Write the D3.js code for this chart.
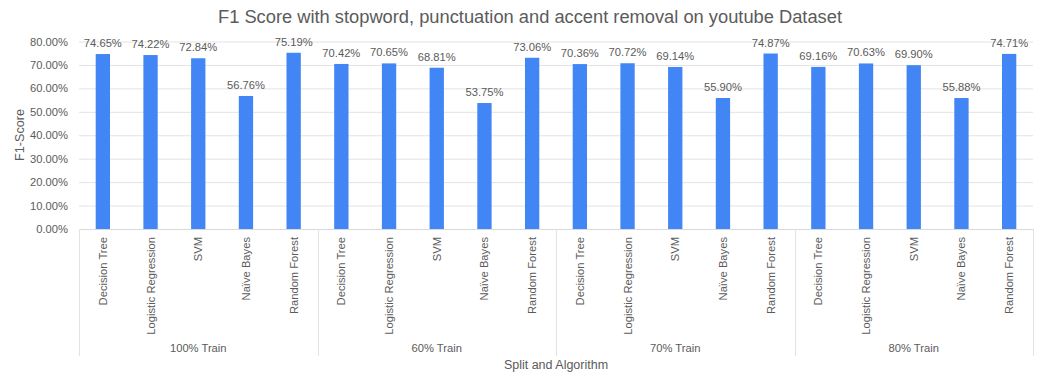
<!DOCTYPE html>
<html>
<head>
<meta charset="utf-8">
<script src="https://cdn.jsdelivr.net/npm/d3@7"></script>
<style>
  html, body { margin: 0; padding: 0; background: #fff; }
  svg { display: block; font-family: "Liberation Sans", Arial, sans-serif; }
</style>
</head>
<body>
<svg id="chart" width="1042" height="375"></svg>
<script>
// Training splits and the algorithms evaluated within each split
const splits = ["100% Train", "60% Train", "70% Train", "80% Train"];
const algorithms = ["Decision Tree", "Logistic Regression", "SVM", "Naïve Bayes", "Random Forest"];

// F1 score (%) per split, in algorithm order
const f1_100 = [74.65, 74.22, 72.84, 56.76, 75.19];
const f1_60  = [70.42, 70.65, 68.81, 53.75, 73.06];
const f1_70  = [70.36, 70.72, 69.14, 55.90, 74.87];
const f1_80  = [69.16, 70.63, 69.90, 55.88, 74.71];

const yTicks = [0, 10, 20, 30, 40, 50, 60, 70, 80];

const seriesBySplit = [f1_100, f1_60, f1_70, f1_80];
const rows = [];
splits.forEach((s, i) => {
  algorithms.forEach((a, j) => {
    rows.push({ key: s + "|" + a, split: s, algo: a, value: seriesBySplit[i][j] });
  });
});

const svg = d3.select("#chart");
const margin = { left: 79, right: 9, top: 41, bottom: 146 };
const W = 1042, H = 375;
const x0 = margin.left, x1 = W - margin.right;
const yBase = H - margin.bottom;

const x = d3.scaleBand().domain(rows.map(d => d.key)).range([x0, x1]).paddingInner(0.7).paddingOuter(0.35);
const xSplit = d3.scaleBand().domain(splits).range([x0, x1]);
const y = d3.scaleLinear().domain([0, 80]).range([yBase, 41.5]);

const grey = "#5b5b5b";
const gridC = "#e3e3e3";
const fs = 11.2;

// Title
svg.append("text")
  .attr("x", 530).attr("y", 23)
  .attr("text-anchor", "middle")
  .attr("font-size", 18.3)
  .attr("fill", grey)
  .text("F1 Score with stopword, punctuation and accent removal on youtube Dataset");

// Horizontal grid lines and y labels
const yAxis = d3.axisLeft(y).tickValues(yTicks).tickSize(-(x1 - x0)).tickFormat(d => d.toFixed(2) + "%");
const gy = svg.append("g").attr("transform", `translate(${x0},0)`).call(yAxis);
gy.select(".domain").remove();
gy.selectAll(".tick line").attr("stroke", gridC).attr("stroke-width", 1);
gy.selectAll(".tick text")
  .attr("x", -11)
  .attr("fill", grey)
  .attr("font-size", fs)
  .attr("font-family", "'Liberation Sans', Arial, sans-serif");

// Y axis title
svg.append("text")
  .attr("transform", `translate(24,${(yBase + 41) / 2}) rotate(-90)`)
  .attr("text-anchor", "middle")
  .attr("font-size", 12.6)
  .attr("fill", grey)
  .text("F1-Score");

// Bars
svg.append("g").selectAll("rect")
  .data(rows)
  .join("rect")
  .attr("x", d => x(d.key))
  .attr("width", x.bandwidth())
  .attr("y", d => y(d.value))
  .attr("height", d => y(0) - y(d.value))
  .attr("fill", "#4285f4");

// Value labels
svg.append("g").selectAll("text")
  .data(rows)
  .join("text")
  .attr("x", d => x(d.key) + x.bandwidth() / 2)
  .attr("y", d => y(d.value) - 7)
  .attr("text-anchor", "middle")
  .attr("font-size", fs)
  .attr("fill", grey)
  .text(d => d.value.toFixed(2) + "%");

// Baseline
svg.append("line")
  .attr("x1", x0).attr("x2", x1)
  .attr("y1", yBase + 0.5).attr("y2", yBase + 0.5)
  .attr("stroke", "#d9d9d9");

// Split separators
const seps = splits.map(s => xSplit(s)).concat([x1]);
svg.append("g").selectAll("line")
  .data(seps)
  .join("line")
  .attr("x1", d => Math.round(d) + 0.5).attr("x2", d => Math.round(d) + 0.5)
  .attr("y1", yBase).attr("y2", 356)
  .attr("stroke", gridC);

// Algorithm labels (rotated)
svg.append("g").selectAll("text")
  .data(rows)
  .join("text")
  .attr("transform", d => `translate(${x(d.key) + x.bandwidth() / 2 + 4},${yBase + 8}) rotate(-90)`)
  .attr("text-anchor", "end")
  .attr("font-size", fs)
  .attr("fill", grey)
  .text(d => d.algo);

// Split labels
svg.append("g").selectAll("text")
  .data(splits)
  .join("text")
  .attr("x", d => xSplit(d) + xSplit.bandwidth() / 2)
  .attr("y", 352)
  .attr("text-anchor", "middle")
  .attr("font-size", fs)
  .attr("fill", grey)
  .text(d => d);

// X axis title
svg.append("text")
  .attr("x", 556).attr("y", 369)
  .attr("text-anchor", "middle")
  .attr("font-size", 12.5)
  .attr("fill", grey)
  .text("Split and Algorithm");
</script>
</body>
</html>
